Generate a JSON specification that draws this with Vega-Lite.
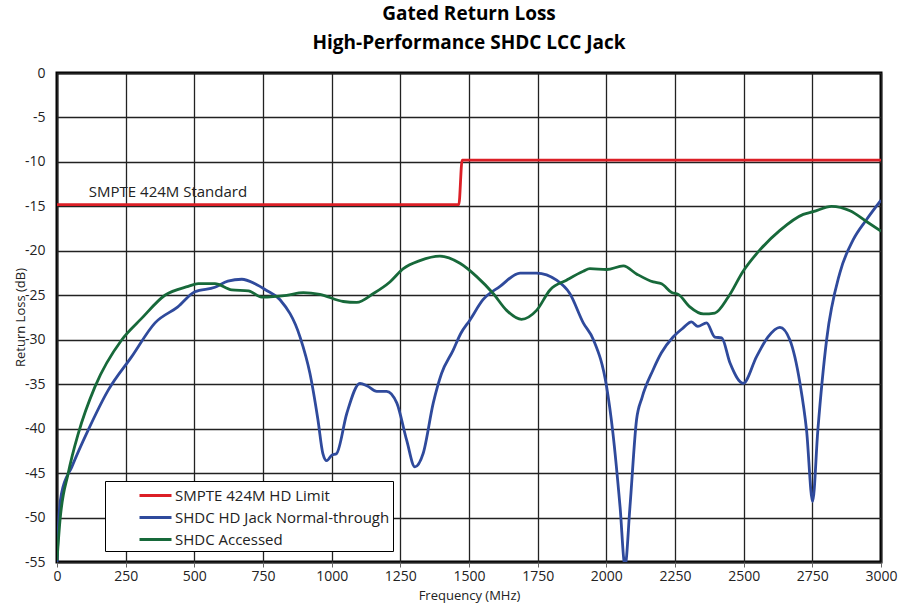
{
  "$schema": "https://vega.github.io/schema/vega-lite/v6.json",
  "autosize": "none",
  "width": 824,
  "height": 489,
  "padding": {"left": 57, "top": 73, "right": 27, "bottom": 43},
  "background": "white",
  "title": {
    "text": ["Gated Return Loss", "High-Performance SHDC LCC Jack"],
    "font": "Open Sans",
    "fontSize": 19,
    "fontWeight": "bold",
    "color": "#000",
    "lineHeight": 29,
    "anchor": "middle",
    "offset": 13
  },
  "config": {
    "font": "Open Sans",
    "view": {"stroke": "#000", "strokeWidth": 3},
    "axis": {
      "gridColor": "#222",
      "gridWidth": 1.3,
      "gridOpacity": 1,
      "domain": false,
      "tickColor": "#666",
      "labelFont": "Open Sans",
      "labelFontSize": 14,
      "labelColor": "#222",
      "titleFont": "Open Sans",
      "titleFontSize": 13,
      "titleFontWeight": "normal",
      "titleColor": "#222"
    }
  },
  "datasets": {
    "curves": [
      {"series": "SMPTE 424M HD Limit", "f": 0, "v": -14.8},
      {"series": "SMPTE 424M HD Limit", "f": 1463, "v": -14.8},
      {"series": "SMPTE 424M HD Limit", "f": 1475, "v": -9.8},
      {"series": "SMPTE 424M HD Limit", "f": 3000, "v": -9.8},

      {"series": "SHDC HD Jack Normal-through", "f": 0, "v": -55},
      {"series": "SHDC HD Jack Normal-through", "f": 8, "v": -49.5},
      {"series": "SHDC HD Jack Normal-through", "f": 17, "v": -47.2},
      {"series": "SHDC HD Jack Normal-through", "f": 54, "v": -44.3},
      {"series": "SHDC HD Jack Normal-through", "f": 113, "v": -40.2},
      {"series": "SHDC HD Jack Normal-through", "f": 186, "v": -35.7},
      {"series": "SHDC HD Jack Normal-through", "f": 272, "v": -31.9},
      {"series": "SHDC HD Jack Normal-through", "f": 357, "v": -28.1},
      {"series": "SHDC HD Jack Normal-through", "f": 440, "v": -26.3},
      {"series": "SHDC HD Jack Normal-through", "f": 502, "v": -24.6},
      {"series": "SHDC HD Jack Normal-through", "f": 575, "v": -24.1},
      {"series": "SHDC HD Jack Normal-through", "f": 622, "v": -23.4},
      {"series": "SHDC HD Jack Normal-through", "f": 673, "v": -23.2},
      {"series": "SHDC HD Jack Normal-through", "f": 721, "v": -23.7},
      {"series": "SHDC HD Jack Normal-through", "f": 760, "v": -24.4},
      {"series": "SHDC HD Jack Normal-through", "f": 812, "v": -25.5},
      {"series": "SHDC HD Jack Normal-through", "f": 885, "v": -29.7},
      {"series": "SHDC HD Jack Normal-through", "f": 921, "v": -33.8},
      {"series": "SHDC HD Jack Normal-through", "f": 950, "v": -39.0},
      {"series": "SHDC HD Jack Normal-through", "f": 968, "v": -42.8},
      {"series": "SHDC HD Jack Normal-through", "f": 982, "v": -43.6},
      {"series": "SHDC HD Jack Normal-through", "f": 1000, "v": -43.0},
      {"series": "SHDC HD Jack Normal-through", "f": 1018, "v": -42.8},
      {"series": "SHDC HD Jack Normal-through", "f": 1055, "v": -38.3},
      {"series": "SHDC HD Jack Normal-through", "f": 1103, "v": -34.9},
      {"series": "SHDC HD Jack Normal-through", "f": 1130, "v": -35.2},
      {"series": "SHDC HD Jack Normal-through", "f": 1164, "v": -35.8},
      {"series": "SHDC HD Jack Normal-through", "f": 1200, "v": -35.8},
      {"series": "SHDC HD Jack Normal-through", "f": 1237, "v": -37.1},
      {"series": "SHDC HD Jack Normal-through", "f": 1273, "v": -41.3},
      {"series": "SHDC HD Jack Normal-through", "f": 1303, "v": -44.3},
      {"series": "SHDC HD Jack Normal-through", "f": 1333, "v": -42.8},
      {"series": "SHDC HD Jack Normal-through", "f": 1370, "v": -37.1},
      {"series": "SHDC HD Jack Normal-through", "f": 1400, "v": -33.8},
      {"series": "SHDC HD Jack Normal-through", "f": 1442, "v": -31.2},
      {"series": "SHDC HD Jack Normal-through", "f": 1470, "v": -29.3},
      {"series": "SHDC HD Jack Normal-through", "f": 1503, "v": -27.8},
      {"series": "SHDC HD Jack Normal-through", "f": 1551, "v": -25.5},
      {"series": "SHDC HD Jack Normal-through", "f": 1613, "v": -24.0},
      {"series": "SHDC HD Jack Normal-through", "f": 1686, "v": -22.5},
      {"series": "SHDC HD Jack Normal-through", "f": 1746, "v": -22.5},
      {"series": "SHDC HD Jack Normal-through", "f": 1819, "v": -23.3},
      {"series": "SHDC HD Jack Normal-through", "f": 1867, "v": -24.8},
      {"series": "SHDC HD Jack Normal-through", "f": 1916, "v": -28.1},
      {"series": "SHDC HD Jack Normal-through", "f": 1953, "v": -30.0},
      {"series": "SHDC HD Jack Normal-through", "f": 2001, "v": -35.3},
      {"series": "SHDC HD Jack Normal-through", "f": 2024, "v": -40.5},
      {"series": "SHDC HD Jack Normal-through", "f": 2050, "v": -48.8},
      {"series": "SHDC HD Jack Normal-through", "f": 2068, "v": -55.5},
      {"series": "SHDC HD Jack Normal-through", "f": 2086, "v": -48.8},
      {"series": "SHDC HD Jack Normal-through", "f": 2110, "v": -39.0},
      {"series": "SHDC HD Jack Normal-through", "f": 2130, "v": -36.5},
      {"series": "SHDC HD Jack Normal-through", "f": 2170, "v": -33.4},
      {"series": "SHDC HD Jack Normal-through", "f": 2200, "v": -31.5},
      {"series": "SHDC HD Jack Normal-through", "f": 2243, "v": -29.7},
      {"series": "SHDC HD Jack Normal-through", "f": 2279, "v": -28.7},
      {"series": "SHDC HD Jack Normal-through", "f": 2310, "v": -28.0},
      {"series": "SHDC HD Jack Normal-through", "f": 2333, "v": -28.5},
      {"series": "SHDC HD Jack Normal-through", "f": 2365, "v": -28.1},
      {"series": "SHDC HD Jack Normal-through", "f": 2395, "v": -29.7},
      {"series": "SHDC HD Jack Normal-through", "f": 2420, "v": -29.8},
      {"series": "SHDC HD Jack Normal-through", "f": 2450, "v": -32.6},
      {"series": "SHDC HD Jack Normal-through", "f": 2498, "v": -34.9},
      {"series": "SHDC HD Jack Normal-through", "f": 2547, "v": -31.9},
      {"series": "SHDC HD Jack Normal-through", "f": 2588, "v": -29.7},
      {"series": "SHDC HD Jack Normal-through", "f": 2632, "v": -28.6},
      {"series": "SHDC HD Jack Normal-through", "f": 2668, "v": -30.0},
      {"series": "SHDC HD Jack Normal-through", "f": 2705, "v": -34.9},
      {"series": "SHDC HD Jack Normal-through", "f": 2729, "v": -40.2},
      {"series": "SHDC HD Jack Normal-through", "f": 2751, "v": -48.2},
      {"series": "SHDC HD Jack Normal-through", "f": 2770, "v": -40.2},
      {"series": "SHDC HD Jack Normal-through", "f": 2802, "v": -30.0},
      {"series": "SHDC HD Jack Normal-through", "f": 2850, "v": -22.5},
      {"series": "SHDC HD Jack Normal-through", "f": 2898, "v": -18.8},
      {"series": "SHDC HD Jack Normal-through", "f": 2947, "v": -16.5},
      {"series": "SHDC HD Jack Normal-through", "f": 3000, "v": -14.3},

      {"series": "SHDC Accessed", "f": 0, "v": -54.8},
      {"series": "SHDC Accessed", "f": 11, "v": -50.3},
      {"series": "SHDC Accessed", "f": 41, "v": -45.0},
      {"series": "SHDC Accessed", "f": 78, "v": -40.5},
      {"series": "SHDC Accessed", "f": 138, "v": -35.3},
      {"series": "SHDC Accessed", "f": 236, "v": -30.0},
      {"series": "SHDC Accessed", "f": 308, "v": -27.6},
      {"series": "SHDC Accessed", "f": 393, "v": -25.0},
      {"series": "SHDC Accessed", "f": 478, "v": -24.0},
      {"series": "SHDC Accessed", "f": 514, "v": -23.7},
      {"series": "SHDC Accessed", "f": 575, "v": -23.7},
      {"series": "SHDC Accessed", "f": 636, "v": -24.4},
      {"series": "SHDC Accessed", "f": 697, "v": -24.5},
      {"series": "SHDC Accessed", "f": 745, "v": -25.2},
      {"series": "SHDC Accessed", "f": 836, "v": -25.0},
      {"series": "SHDC Accessed", "f": 897, "v": -24.7},
      {"series": "SHDC Accessed", "f": 957, "v": -24.9},
      {"series": "SHDC Accessed", "f": 1042, "v": -25.7},
      {"series": "SHDC Accessed", "f": 1091, "v": -25.8},
      {"series": "SHDC Accessed", "f": 1152, "v": -24.8},
      {"series": "SHDC Accessed", "f": 1212, "v": -23.5},
      {"series": "SHDC Accessed", "f": 1261, "v": -22.0},
      {"series": "SHDC Accessed", "f": 1321, "v": -21.1},
      {"series": "SHDC Accessed", "f": 1394, "v": -20.6},
      {"series": "SHDC Accessed", "f": 1467, "v": -21.4},
      {"series": "SHDC Accessed", "f": 1528, "v": -22.9},
      {"series": "SHDC Accessed", "f": 1588, "v": -24.8},
      {"series": "SHDC Accessed", "f": 1637, "v": -26.7},
      {"series": "SHDC Accessed", "f": 1691, "v": -27.7},
      {"series": "SHDC Accessed", "f": 1746, "v": -26.7},
      {"series": "SHDC Accessed", "f": 1795, "v": -24.4},
      {"series": "SHDC Accessed", "f": 1855, "v": -23.3},
      {"series": "SHDC Accessed", "f": 1916, "v": -22.3},
      {"series": "SHDC Accessed", "f": 1940, "v": -22.0},
      {"series": "SHDC Accessed", "f": 2001, "v": -22.1},
      {"series": "SHDC Accessed", "f": 2062, "v": -21.7},
      {"series": "SHDC Accessed", "f": 2110, "v": -22.6},
      {"series": "SHDC Accessed", "f": 2171, "v": -23.5},
      {"series": "SHDC Accessed", "f": 2201, "v": -23.7},
      {"series": "SHDC Accessed", "f": 2238, "v": -24.7},
      {"series": "SHDC Accessed", "f": 2262, "v": -24.9},
      {"series": "SHDC Accessed", "f": 2304, "v": -26.3},
      {"series": "SHDC Accessed", "f": 2353, "v": -27.1},
      {"series": "SHDC Accessed", "f": 2395, "v": -27.0},
      {"series": "SHDC Accessed", "f": 2444, "v": -25.2},
      {"series": "SHDC Accessed", "f": 2498, "v": -22.3},
      {"series": "SHDC Accessed", "f": 2559, "v": -19.9},
      {"series": "SHDC Accessed", "f": 2632, "v": -17.7},
      {"series": "SHDC Accessed", "f": 2717, "v": -15.9},
      {"series": "SHDC Accessed", "f": 2753, "v": -15.6},
      {"series": "SHDC Accessed", "f": 2820, "v": -15.0},
      {"series": "SHDC Accessed", "f": 2887, "v": -15.5},
      {"series": "SHDC Accessed", "f": 2947, "v": -16.7},
      {"series": "SHDC Accessed", "f": 3000, "v": -17.8}
    ],
    "notes": [
      {"f": 116, "v": -13.4, "label": "SMPTE 424M Standard"}
    ]
  },
  "layer": [
    {
      "data": {"name": "curves"},
      "mark": {"type": "line", "strokeWidth": 2.8, "interpolate": "monotone", "clip": true},
      "encoding": {
        "x": {
          "field": "f", "type": "quantitative",
          "scale": {"domain": [0, 3000], "nice": false, "zero": false},
          "axis": {"values": [0,250,500,750,1000,1250,1500,1750,2000,2250,2500,2750,3000], "labelExpr": "datum.value + ''", "title": "Frequency (MHz)", "tickSize": 5, "labelPadding": 2, "titlePadding": 6, "labelFlush": false}
        },
        "y": {
          "field": "v", "type": "quantitative",
          "scale": {"domain": [-55, 0], "nice": false, "zero": false},
          "axis": {"values": [0,-5,-10,-15,-20,-25,-30,-35,-40,-45,-50,-55], "labelExpr": "datum.value + ''", "title": "Return Loss (dB)", "tickSize": 0, "labelPadding": 12, "titleX": -30, "titleY": 244, "titleBaseline": "bottom", "titleAngle": -90}
        },
        "color": {
          "field": "series", "type": "nominal",
          "scale": {
            "domain": ["SMPTE 424M HD Limit", "SHDC HD Jack Normal-through", "SHDC Accessed"],
            "range": ["#dc1f26", "#2f4a9c", "#17693a"]
          },
          "legend": {
            "title": null,
            "orient": "none",
            "legendX": 48,
            "legendY": 408,
            "symbolType": "M-1.6,0H1.6",
            "symbolStrokeWidth": 3,
            "symbolSize": 400,
            "symbolOffset": 36,
            "labelOffset": 8,
            "labelFontSize": 15,
            "labelFont": "Open Sans",
            "labelColor": "#222",
            "labelLimit": 400,
            "padding": 3,
            "rowPadding": 2,
            "fillColor": "white",
            "strokeColor": "#000"
          }
        }
      }
    },
    {
      "data": {"name": "notes"},
      "mark": {"type": "text", "align": "left", "baseline": "middle", "fontSize": 15, "font": "Open Sans", "color": "#222"},
      "encoding": {
        "x": {"field": "f", "type": "quantitative"},
        "y": {"field": "v", "type": "quantitative"},
        "text": {"field": "label"}
      }
    }
  ]
}
